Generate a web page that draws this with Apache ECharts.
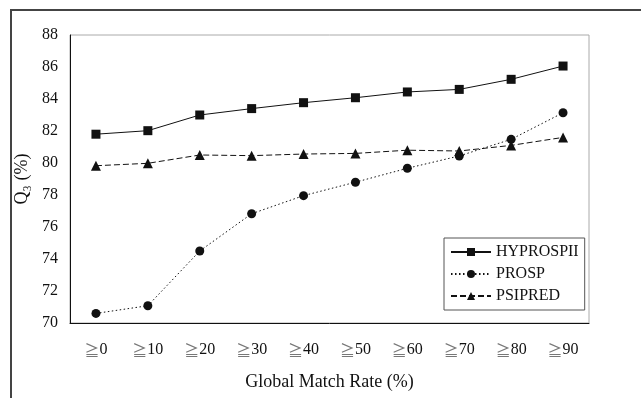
<!DOCTYPE html>
<html><head><meta charset="utf-8">
<script src="https://cdn.jsdelivr.net/npm/echarts@6/dist/echarts.min.js"></script>
<style>html,body{margin:0;padding:0;background:#fff}#c{width:641px;height:398px}</style>
</head><body><div id="c"></div>
<script>
var categories = ['0','10','20','30','40','50','60','70','80','90'];
var hyprospii = [81.8, 82.02, 83.0, 83.4, 83.77, 84.08, 84.44, 84.6, 85.23, 86.06];
var prosp = [70.6, 71.08, 74.5, 76.83, 77.96, 78.8, 79.67, 80.44, 81.48, 83.14];
var psipred = [79.83, 79.98, 80.5, 80.46, 80.56, 80.6, 80.8, 80.75, 81.1, 81.6];
var yTicks = [70, 72, 74, 76, 78, 80, 82, 84, 86, 88];

var serif = '"Liberation Serif","DejaVu Serif",serif';
var chart = echarts.init(document.getElementById('c'));
var mk = function(name, data, sym, type){
  return {name:name, type:'line', data:data, symbol:sym, symbolSize: sym==='triangle'?10:9,
    itemStyle:{color:'#111'}, lineStyle:{color:'#111', width:1, type:type}, animation:false};
};
chart.setOption({
  animation:false,
  graphic:[{type:'rect', shape:{x:11, y:10, width:640, height:400}, style:{fill:'none', stroke:'#444', lineWidth:2}, z:-1}],
  grid:{left:70, top:35, width:519, height:288, show:true, borderColor:'#aaa', borderWidth:1},
  legend:{orient:'vertical', left:444, top:238, padding:[6,6,6,6], itemGap:6,
    borderColor:'#555', borderWidth:1, itemWidth:40, itemHeight:10,
    textStyle:{fontFamily:serif, fontSize:16, color:'#111', padding:[0,0,0,0]},
    data:['HYPROSPII','PROSP','PSIPRED']},
  xAxis:{type:'category', data:categories, boundaryGap:true,
    axisLine:{lineStyle:{color:'#111', width:1}},
    axisTick:{inside:true, length:5, lineStyle:{color:'#111'}},
    axisLabel:{interval:0, margin:19, fontFamily:serif, fontSize:16, color:'#111',
      formatter:function(v){return '{g|≧}' + v;},
      rich:{g:{fontFamily:'"Noto Sans CJK JP"', fontSize:15, color:'#777'}}},
    name:'Global Match Rate (%)', nameLocation:'middle', nameGap:50,
    nameTextStyle:{fontFamily:serif, fontSize:18, color:'#111'}},
  yAxis:{type:'value', min:yTicks[0], max:yTicks[yTicks.length-1], interval:2,
    axisLine:{show:true, lineStyle:{color:'#111', width:1}},
    axisTick:{show:false}, splitLine:{show:false},
    axisLabel:{margin:12, fontFamily:serif, fontSize:16, color:'#111'},
    name:'Q₃ (%)', nameLocation:'middle', nameGap:34, nameRotate:90,
    nameTextStyle:{fontFamily:serif, fontSize:18, color:'#111'}},
  series:[mk('HYPROSPII', hyprospii, 'rect', 'solid'),
          mk('PROSP', prosp, 'circle', [1.5,2.5]),
          mk('PSIPRED', psipred, 'triangle', [6,3])]
});
</script></body></html>
